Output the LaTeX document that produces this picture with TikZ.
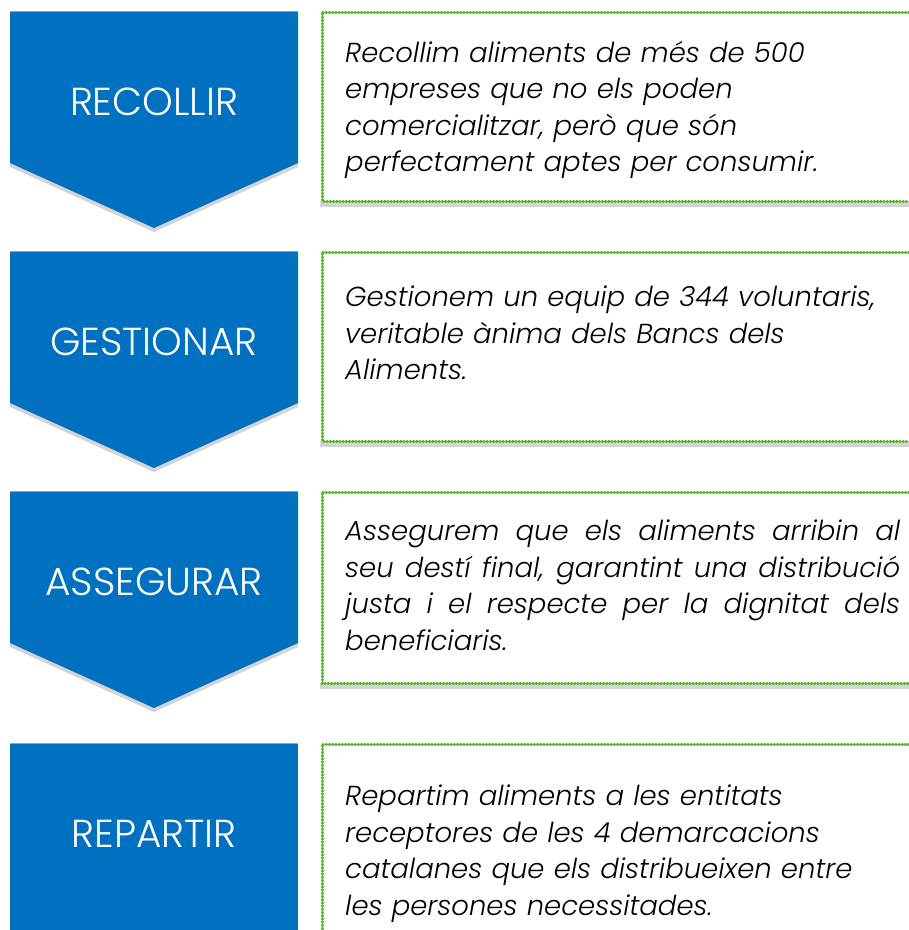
\documentclass[tikz,border=0pt]{standalone}
\usepackage{fontspec}
\setmainfont{Poppins Light}
\newfontfamily\labelfont{Poppins Light}
\definecolor{bablue}{RGB}{0,112,192}
\definecolor{baedge}{RGB}{120,170,220}
\definecolor{bagreen}{RGB}{84,180,40}
\definecolor{bashadow}{RGB}{212,212,212}
\tikzset{
  chevron/.style={fill=bablue},
  chevshadow/.style={fill=bashadow},
  framegreen/.style={draw=bagreen, line width=3pt, line cap=round, dash pattern=on 0.6pt off 2.6pt},
  steplabel/.style={text=white, inner sep=0pt, font=\labelfont\fontsize{39}{42}\selectfont},
  steptext/.style={anchor=north west, text width=555pt, align=left, inner sep=0pt,
    font=\itshape\fontsize{27.5}{36.5}\selectfont},
}

\begin{document}
\begin{tikzpicture}[x=1pt,y=-1pt]
  \useasboundingbox (0,0) rectangle (909,930);
  % RECOLLIR
  \fill[chevshadow] (10,15) -- (298,15) -- (298,167) -- (154,232) -- (10,167) -- cycle;
  \fill[chevron] (10,11) -- (298,11) -- (298,163) -- (154,228) -- (10,163) -- cycle;
  \draw[baedge, line width=1pt] (10,11.5) -- (298,11.5);
  \node[steplabel] (recollir) at (154,102) {RECOLLIR};
  \fill[bashadow] (320,201) rectangle (909,207);
  \draw[framegreen] (909,12) -- (322,12) -- (322,201) -- (909,201);
  \node[steptext] (txtrecollir) at (345,41)
    {Recollim aliments de més de 500\\ empreses que no els poden\\
     comercialitzar, però que són\\ perfectament aptes per consumir.};
  % GESTIONAR
  \fill[chevshadow] (10,255) -- (298,255) -- (298,407) -- (154,472) -- (10,407) -- cycle;
  \fill[chevron] (10,251) -- (298,251) -- (298,403) -- (154,468) -- (10,403) -- cycle;
  \draw[baedge, line width=1pt] (10,251.5) -- (298,251.5);
  \node[steplabel] (gestionar) at (154,342) {GESTIONAR};
  \fill[bashadow] (320,441) rectangle (909,447);
  \draw[framegreen] (909,252) -- (322,252) -- (322,441) -- (909,441);
  \node[steptext] (txtgestionar) at (345,286)
    {Gestionem un equip de 344 voluntaris,\\ veritable ànima dels Bancs dels\\ Aliments.};
  % ASSEGURAR
  \fill[chevshadow] (10,495) -- (298,495) -- (298,647) -- (154,712) -- (10,647) -- cycle;
  \fill[chevron] (10,491) -- (298,491) -- (298,643) -- (154,708) -- (10,643) -- cycle;
  \draw[baedge, line width=1pt] (10,491.5) -- (298,491.5);
  \node[steplabel] (assegurar) at (154,582) {ASSEGURAR};
  \fill[bashadow] (320,683) rectangle (909,689);
  \draw[framegreen] (909,492) -- (322,492) -- (322,683) -- (909,683);
  \node[steptext, align=justify] (txtassegurar) at (345,520)
    {Assegurem que els aliments arribin al\linebreak seu destí final, garantint una distribució\linebreak
     justa i el respecte per la dignitat dels\linebreak beneficiaris.};
  % REPARTIR
  \fill[chevron] (10,743) rectangle (298,930);
  \draw[baedge, line width=1pt] (10,743.5) -- (298,743.5);
  \node[steplabel] (repartir) at (154,834) {REPARTIR};
  \draw[framegreen] (909,744) -- (322,744) -- (322,930);
  \node[steptext] (txtrepartir) at (345,785)
    {Repartim aliments a les entitats\\ receptores de les 4 demarcacions\\
     catalanes que els distribueixen entre\\ les persones necessitades.};
\end{tikzpicture}
\end{document}
